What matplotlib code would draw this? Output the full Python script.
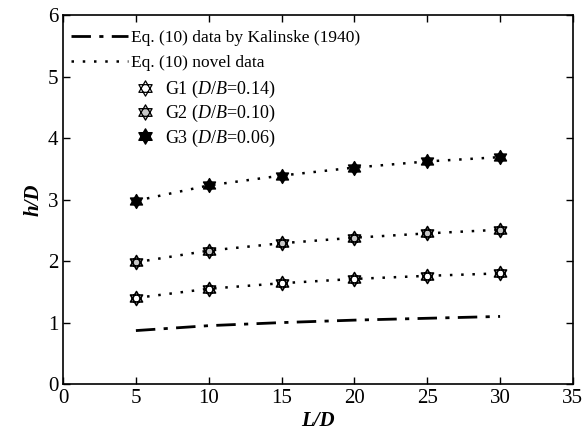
import matplotlib
matplotlib.use("Agg")
import matplotlib.pyplot as plt
from matplotlib.path import Path
from matplotlib.lines import Line2D
import numpy as np

plt.rcParams["font.family"] = ["Liberation Serif", "DejaVu Serif"]
plt.rcParams["mathtext.fontset"] = "custom"
plt.rcParams["mathtext.rm"] = "Liberation Serif"
plt.rcParams["mathtext.it"] = "Liberation Serif:italic"

L_over_D = [5, 10, 15, 20, 25, 30]
kalinske = [0.87, 0.95, 1.00, 1.04, 1.07, 1.10]
g1 = [1.40, 1.55, 1.64, 1.71, 1.76, 1.80]
g2 = [1.98, 2.17, 2.29, 2.38, 2.45, 2.51]
g3 = [2.98, 3.23, 3.39, 3.52, 3.62, 3.69]

# hexagram marker: two overlapping triangles
ang_up = np.deg2rad([90, 210, 330])
ang_dn = np.deg2rad([270, 30, 150])
verts = []
codes = []
for a in (ang_up, ang_dn):
    pts = list(zip(np.cos(a), np.sin(a)))
    verts += pts + [pts[0]]
    codes += [Path.MOVETO, Path.LINETO, Path.LINETO, Path.CLOSEPOLY]
hexagram = Path(verts, codes)

fig = plt.figure(figsize=(5.84, 4.42), dpi=100)
ax = fig.add_axes([0.108, 0.131, 0.873, 0.835])

dashdot = (0, (7, 3, 1.5, 3))
dotted = (0, (1, 3.5))
l1, = ax.plot(L_over_D, kalinske, color="black", lw=2, linestyle=dashdot,
              label="Eq. (10) data by Kalinske (1940)")
l2, = ax.plot(L_over_D, g1, color="black", lw=1.8, linestyle=dotted,
              label="Eq. (10) novel data")
ax.plot(L_over_D, g2, color="black", lw=1.8, linestyle=dotted)
ax.plot(L_over_D, g3, color="black", lw=1.8, linestyle=dotted)

ms = 10
styles = [dict(mfc="white", mew=1.2), dict(mfc="#c8c8c8", mew=1.2), dict(mfc="black", mew=1.0)]
for ys, st in zip([g1, g2, g3], styles):
    ax.plot(L_over_D, ys, linestyle="none", marker=hexagram, ms=ms, mec="black", **st)

ax.set_xlim(0, 35)
ax.set_ylim(0, 6)
ax.set_xticks(range(0, 36, 5))
ax.set_yticks(range(0, 7))
ax.tick_params(direction="in", top=True, right=True, labelsize=15, length=5, width=1)
for s in ax.spines.values():
    s.set_linewidth(1.2)

ax.set_xlabel("L/D", fontsize=15, fontweight="bold", fontstyle="italic", labelpad=2)
ax.set_ylabel("h/D", fontsize=15, fontweight="bold", fontstyle="italic", labelpad=3)

leg1 = ax.legend(handles=[l1, l2], loc="upper left", bbox_to_anchor=(-0.005, 0.987),
                 frameon=False, fontsize=12.5, handlelength=3.3, handletextpad=0.15,
                 labelspacing=0.5, borderaxespad=0.2)
ax.add_artist(leg1)

leg_styles = [dict(mfc="white", mew=0.9), dict(mfc="#c8c8c8", mew=0.9), dict(mfc="black", mew=1.0)]
handles = [Line2D([], [], linestyle="none", marker=hexagram, ms=11, mec="black", **st)
           for st in leg_styles]
ax.legend(handles=handles,
          labels=[r"G1 ($D$/$B$=0.14)", r"G2 ($D$/$B$=0.10)", r"G3 ($D$/$B$=0.06)"],
          loc="upper left", bbox_to_anchor=(0.126, 0.846), frameon=False,
          fontsize=13, handlelength=1.2, handletextpad=0.5, labelspacing=0.17,
          borderaxespad=0.0)

fig.savefig("out.png", dpi=100)
